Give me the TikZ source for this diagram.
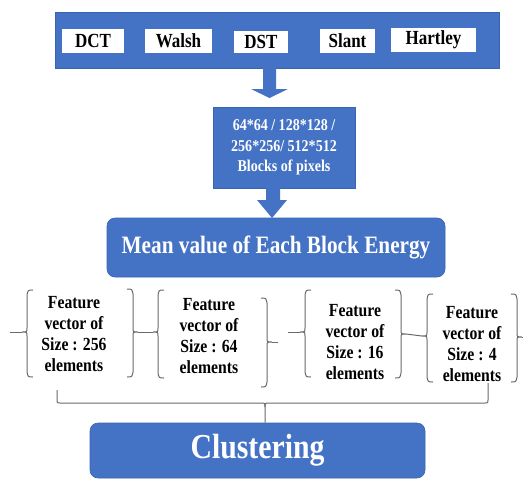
\documentclass[tikz,border=0pt]{standalone}
\usepackage{fontspec}
\setmainfont{Liberation Serif}[BoldFont={Liberation Serif Bold}]
\usetikzlibrary{calc}
\definecolor{obl}{HTML}{4472C4}
\definecolor{obd}{HTML}{3A64B0}
\definecolor{brk}{HTML}{6A6A6A}
\newcommand\nar[1]{\scalebox{0.85}[1]{#1}}
\tikzset{
 bluebox/.style={fill=obl, draw=obd, line width=0.6pt, inner sep=0pt, text=white},
 wlab/.style={fill=white, inner sep=0pt, font=\bfseries\fontsize{20}{24}\selectfont, text=black},
 brc/.style={draw=brk, line width=1pt},
 ftext/.style={align=center, font=\bfseries\fontsize{18.5}{21}\selectfont, inner sep=0pt, text=black},
 barrow/.style={fill=obl, draw=none}
}
\newcommand\LBr[5]{% name, x, top, bottom, mid
 \draw[brc] ({#2+6},#3) .. controls ({#2+1},#3) .. (#2,{#3+5}) -- (#2,{#5-4}) .. controls (#2,#5) .. ({#2-5},#5) .. controls (#2,#5) .. (#2,{#5+4}) -- (#2,{#4-5}) .. controls ({#2+1},#4) .. ({#2+6},#4);
 \coordinate (#1) at ({#2-5},#5);}
\newcommand\RBr[5]{% name, x, top, bottom, mid
 \draw[brc] ({#2-6},#3) .. controls ({#2-1},#3) .. (#2,{#3+5}) -- (#2,{#5-4}) .. controls (#2,#5) .. ({#2+5},#5) .. controls (#2,#5) .. (#2,{#5+4}) -- (#2,{#4-5}) .. controls ({#2-1},#4) .. ({#2-6},#4);
 \coordinate (#1) at ({#2+5},#5);}
\begin{document}
\begin{tikzpicture}[x=1pt,y=-1pt]
\useasboundingbox (0,0) rectangle (526,479);
% top transform box
\node[bluebox, minimum width=444pt, minimum height=56pt] (top) at (277,40) {};
\node[wlab, minimum width=62pt, minimum height=24pt] (dct) at (93,41) {\nar{DCT}};
\node[wlab, minimum width=67pt, minimum height=24pt] (walsh) at (178.5,41) {\nar{Walsh}};
\node[wlab, minimum width=54pt, minimum height=22pt] (dst) at (261,42) {\nar{DST}};
\node[wlab, minimum width=55pt, minimum height=24pt] (slant) at (347.5,41) {\nar{Slant}};
\node[wlab, minimum width=85pt, minimum height=24pt] (hartley) at (433.5,40) {\nar{Hartley}};
% blocks box
\node[bluebox, minimum width=142pt, minimum height=81pt, align=center,
      font=\bfseries\fontsize{16.5}{20.5}\selectfont] (blk) at (284,147.5)
      {\nar{64*64 / 128*128 /}\\\nar{256*256/ 512*512}\\\nar{Blocks of pixels}};
% mean box
\node[bluebox, rounded corners=8pt, minimum width=338pt, minimum height=59pt,
      font=\bfseries\fontsize{25}{30}\selectfont] (mean) at (276,247.5)
      {\nar{Mean value of Each Block Energy}};
% clustering box
\node[bluebox, rounded corners=8pt, minimum width=335pt, minimum height=55pt,
      font=\bfseries\fontsize{35}{40}\selectfont] (clust) at (257.5,450.5)
      {\nar{Clustering}};
% block arrows
\fill[barrow] (263,68) -- (276,68) -- (276,89) -- (288,89) -- (269.5,98) -- (251,89) -- (263,89) -- cycle;
\fill[barrow] (266,188) -- (280,188) -- (280,200) -- (287,200) -- (272,218) -- (257,200) -- (266,200) -- cycle;
% feature vectors
\node[ftext] (f1) at (74,334) {\nar{Feature}\\\nar{vector of}\\\nar{Size : 256}\\\nar{elements}};
\node[ftext] (f2) at (209,336) {\nar{Feature}\\\nar{vector of}\\\nar{Size : 64}\\\nar{elements}};
\node[ftext] (f3) at (355,342.5) {\nar{Feature}\\\nar{vector of}\\\nar{Size : 16}\\\nar{elements}};
\node[ftext] (f4) at (472,344) {\nar{Feature}\\\nar{vector of}\\\nar{Size : 4}\\\nar{elements}};
\LBr{b1l}{27}{290}{377}{332}
\RBr{b1r}{133}{289}{377}{332}
\LBr{b2l}{158}{290}{378}{332}
\RBr{b2r}{267}{298}{387}{342}
\LBr{b3l}{305}{290}{377}{332}
\RBr{b3r}{401}{290}{378}{334}
\LBr{b4l}{427}{294}{382}{336}
\RBr{b4r}{517}{294}{382}{337}
\coordinate (s0) at (10,332);
\coordinate (s2) at (278,342);
\coordinate (s3) at (288,332);
\coordinate (s5) at (523,337);
\draw[brc] (s0) -- (b1l);
\draw[brc] (b1r) -- (b2l);
\draw[brc] (b2r) -- (s2);
\draw[brc] (s3) -- (b3l);
\draw[brc] (b3r) -- (b4l);
\draw[brc] (b4r) -- (s5);
% collecting bracket
\coordinate (bl) at (57,390);
\coordinate (br) at (488,383);
\coordinate (bm) at (265,407);
\draw[brc] (bl) -- (57,400) .. controls (57,403) .. (60,403) -- (261,403) .. controls (265,403) .. (bm) -- (bm |- clust.north);
\draw[brc] (bm) .. controls (265,403) .. (269,403) -- (485,403) .. controls (488,403) .. (488,400) -- (br);
\end{tikzpicture}
\end{document}
